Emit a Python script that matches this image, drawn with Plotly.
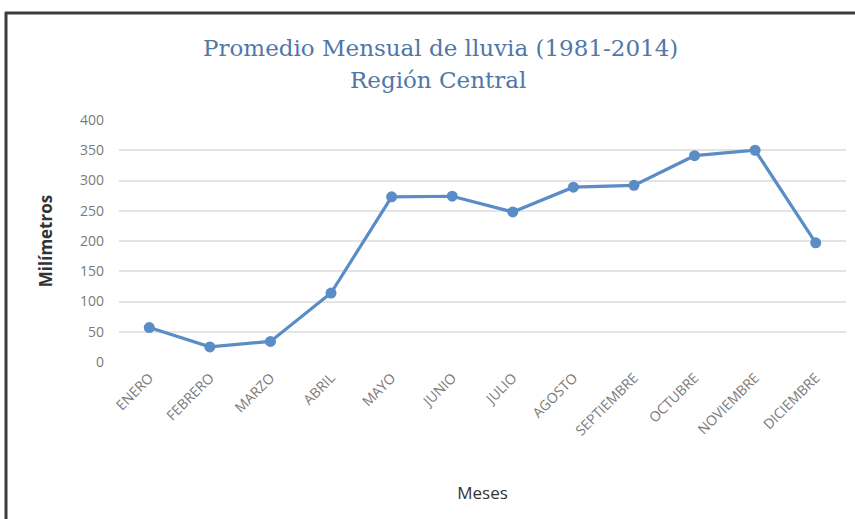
import plotly.graph_objects as go

# Monthly mean rainfall, Central Region (1981-2014)
meses = ["ENERO", "FEBRERO", "MARZO", "ABRIL", "MAYO", "JUNIO", "JULIO",
         "AGOSTO", "SEPTIEMBRE", "OCTUBRE", "NOVIEMBRE", "DICIEMBRE"]
lluvia_mm = [57, 25, 34, 114, 273, 274, 248, 289, 292, 341, 350, 197]
y_ticks = [0, 50, 100, 150, 200, 250, 300, 350, 400]

W, H = 855, 519
L, R, T, B = 119, 9, 120, 157
pw, ph = W - L - R, H - T - B


def px(xp):
    return (xp - L) / pw


def py(yp):
    return (H - B - yp) / ph


fig = go.Figure()
fig.add_trace(go.Scatter(
    x=meses, y=lluvia_mm, mode="lines+markers",
    line=dict(color="#5a8cc6", width=3.2),
    marker=dict(color="#5a8cc6", size=11),
    showlegend=False,
))

title_font = dict(family="DejaVu Serif", size=23, color="#4f77a8")
fig.add_annotation(text="Promedio Mensual de lluvia (1981-2014)",
                   xref="paper", yref="paper", x=px(440), y=py(48),
                   showarrow=False, font=title_font, xanchor="center", yanchor="middle")
fig.add_annotation(text="Región Central",
                   xref="paper", yref="paper", x=px(438), y=py(80),
                   showarrow=False, font=title_font, xanchor="center", yanchor="middle")

# frame around the chart area (top and left edges visible)
border = dict(color="#3c3c3c", width=3)
fig.add_shape(type="line", xref="paper", yref="paper",
              x0=px(5), x1=px(860), y0=py(13), y1=py(13), line=border)
fig.add_shape(type="line", xref="paper", yref="paper",
              x0=px(6), x1=px(6), y0=py(12), y1=py(525), line=border)

fig.update_layout(
    width=W, height=H,
    margin=dict(l=L, r=R, t=T, b=B),
    paper_bgcolor="white", plot_bgcolor="white",
    font=dict(family="Open Sans", color="#7a7a7a"),
)
fig.update_xaxes(
    type="category", tickangle=-45, range=[-0.5, len(meses) - 0.5],
    tickfont=dict(family="Open Sans", size=14, color="#7a7a7a"),
    showgrid=False, showline=False, zeroline=False, ticks="",
    ticklabelstandoff=4,
    title=dict(text="Meses", font=dict(family="Open Sans", size=17, color="#333333"),
               standoff=48),
)
fig.update_yaxes(
    range=[0, 400], tickvals=y_ticks,
    tickfont=dict(family="Open Sans", size=14, color="#7a7a7a"),
    showgrid=True, gridcolor="#e4e4e4", gridwidth=1.5,
    showline=False, zeroline=False, ticks="", ticklabelstandoff=14,
    title=dict(text="<b>Milímetros</b>", font=dict(family="Open Sans", size=17, color="#333333"),
               standoff=23),
)

fig.write_html("out.html")
